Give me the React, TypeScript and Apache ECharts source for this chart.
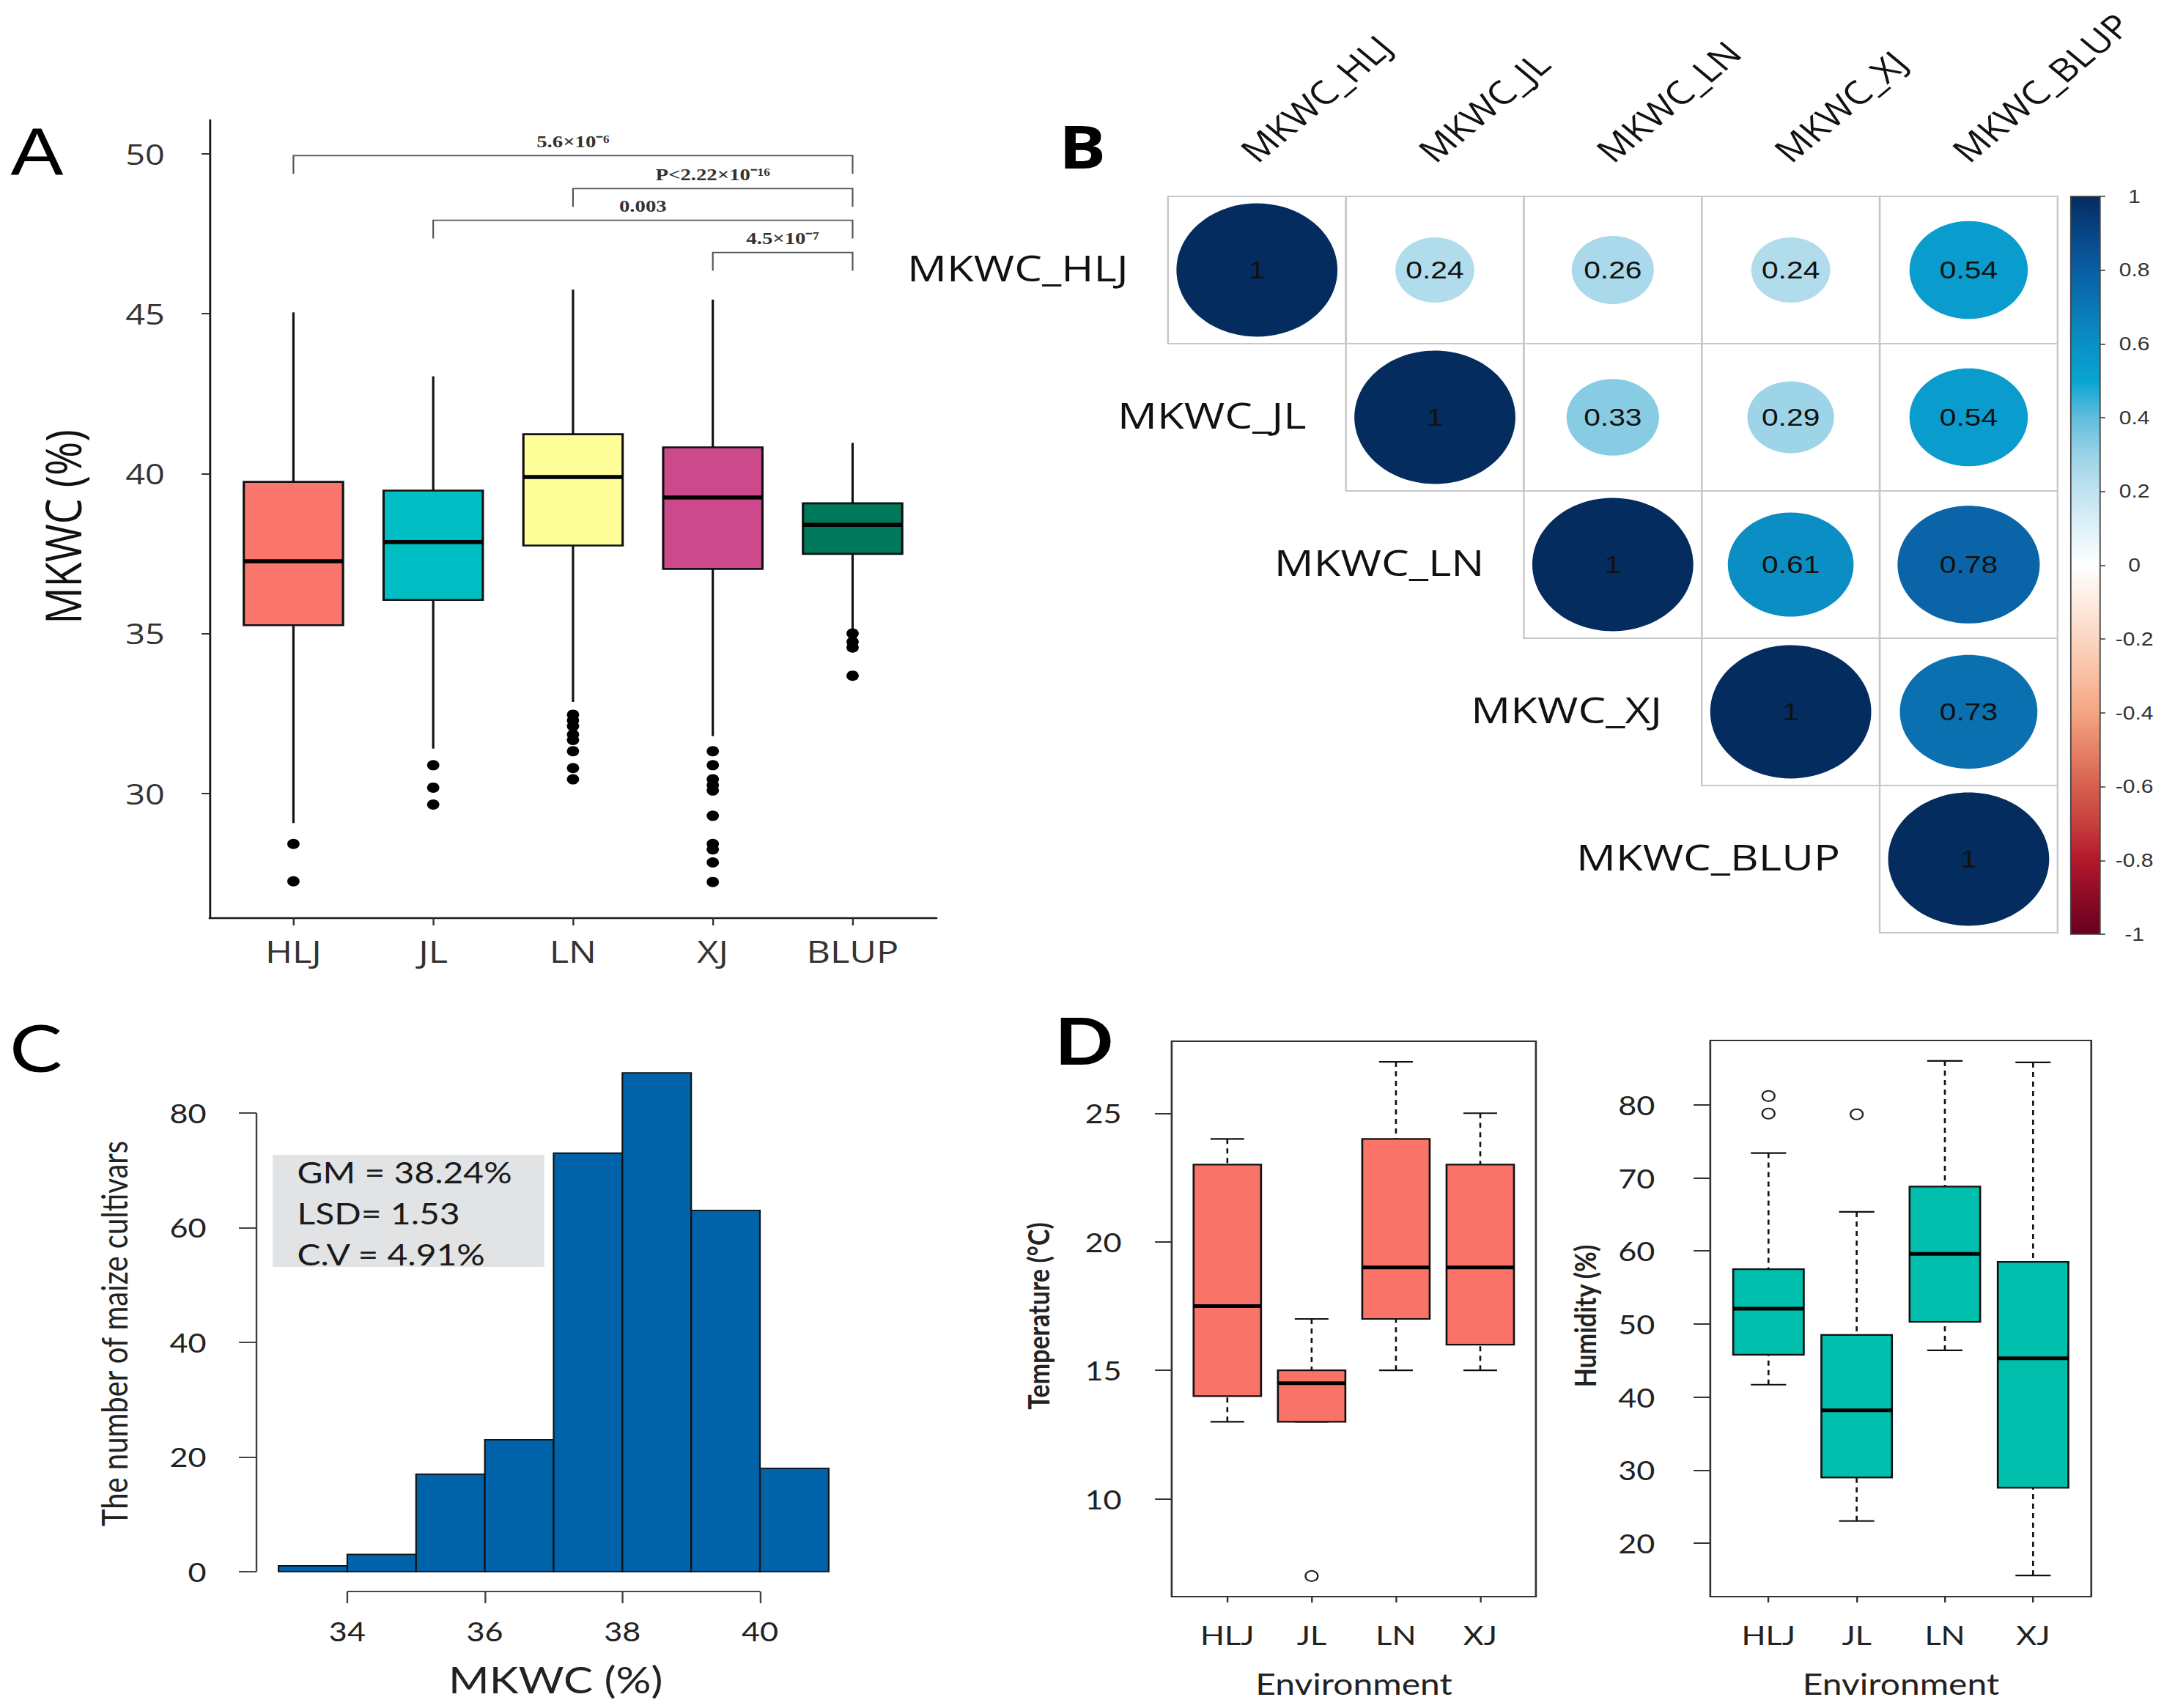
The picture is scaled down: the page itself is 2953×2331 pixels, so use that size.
import React, { useEffect, useRef } from "react";
import * as echarts from "echarts";

// The reference figure is stretched horizontally; we draw in an unstretched
// frame and stretch the whole chart with CSS.
const FIG_W = 2953;
const FIG_H = 2331;
const CHART_W = 2461;
const STRETCH = FIG_W / CHART_W;

// ---------------- Panel A: MKWC boxplots by environment ----------------
const envA = ["HLJ", "JL", "LN", "XJ", "BLUP"];
const minA = [29.07, 31.4, 32.86, 31.79, 35.09];
const q1A = [35.26, 36.05, 37.75, 37.02, 37.49];
const medA = [37.26, 37.86, 39.89, 39.25, 38.4];
const q3A = [39.74, 39.47, 41.23, 40.82, 39.07];
const maxA = [45.04, 43.04, 45.75, 45.44, 40.96];
const colorsA = ["#FB766D", "#00BFC4", "#FFFF99", "#CC4A8B", "#00785A"];
const outHLJ = [28.42, 27.25];
const outJL = [30.88, 30.18, 29.65];
const outLN = [32.46, 32.28, 32.1, 31.84, 31.67, 31.32, 30.79, 30.44];
const outXJ = [31.32, 30.88, 30.44, 30.26, 30.09, 29.3, 28.42, 28.25, 27.84, 27.23];
const outBLUP = [35.0, 34.74, 34.56, 33.68];
const yTicksA = [30, 35, 40, 45, 50];
const sigFrom = [1, 3, 2, 4];
const sigTo = [5, 5, 5, 5];
const sigY = [49.94, 48.91, 47.92, 46.91];
const sigText = ["5.6×10⁻⁶", "P<2.22×10⁻¹⁶", "0.003", "4.5×10⁻⁷"];
const SIG_TICK = 0.57;

// ---------------- Panel B: correlation matrix ----------------
const corrLabels = ["MKWC_HLJ", "MKWC_JL", "MKWC_LN", "MKWC_XJ", "MKWC_BLUP"];
const corrHLJ = [1, 0.24, 0.26, 0.24, 0.54];
const corrJL = [0.24, 1, 0.33, 0.29, 0.54];
const corrLN = [0.26, 0.33, 1, 0.61, 0.78];
const corrXJ = [0.24, 0.29, 0.61, 1, 0.73];
const corrBLUP = [0.54, 0.54, 0.78, 0.73, 1];
const corrMatrix = [corrHLJ, corrJL, corrLN, corrXJ, corrBLUP];
const colorbarTicks = [-1, -0.8, -0.6, -0.4, -0.2, 0, 0.2, 0.4, 0.6, 0.8, 1];
// colours from -1 to 1 in steps of 0.1
const corrPalette = [
  "#67001F", "#8A0B25", "#B2182B", "#C73F3E", "#D6604D", "#E58267", "#F4A582",
  "#F8BFA2", "#FBD6C2", "#FDEBE1", "#FFFFFF", "#E0F1F8", "#C0E3F0", "#99D2E7",
  "#62BDDD", "#08A4D2", "#0A90C5", "#0A78B5", "#0A5FA4", "#084585", "#042C5E",
];

// ---------------- Panel C: histogram ----------------
const histEdges = [33, 34, 35, 36, 37, 38, 39, 40, 41];
const histCounts = [1, 3, 17, 23, 73, 87, 63, 18];
const xTicksC = [34, 36, 38, 40];
const yTicksC = [0, 20, 40, 60, 80];
const statsC = ["GM = 38.24%", "LSD= 1.53", "C.V = 4.91%"];

// ---------------- Panel D: environment boxplots ----------------
const envD = ["HLJ", "JL", "LN", "XJ"];
const tempMin = [13, 13, 15, 15];
const tempQ1 = [14, 13, 17, 16];
const tempMed = [17.5, 14.5, 19, 19];
const tempQ3 = [23, 15, 24, 23];
const tempMax = [24, 17, 27, 25];
const tempOutPos = [2];
const tempOutVal = [7];
const humMin = [41.7, 23.05, 46.4, 15.6];
const humQ1 = [45.8, 29.0, 50.3, 27.6];
const humMed = [52.1, 38.2, 59.6, 45.3];
const humQ3 = [57.5, 48.5, 68.8, 58.5];
const humMax = [73.4, 65.35, 86.0, 85.8];
const humOutPos = [1, 1, 2];
const humOutVal = [81.2, 78.8, 78.7];
const tempTicks = [10, 15, 20, 25];
const humTicks = [20, 30, 40, 50, 60, 70, 80];

type BoxOpts = {
  half: number;
  fills: string[];
  lineW: number;
  medW: number;
  dashed: boolean;
  cap: number;
};

function makeBoxRenderer(o: BoxOpts) {
  return (params: any, api: any) => {
    const x = api.value(0);
    const lo = api.value(1);
    const q1 = api.value(2);
    const md = api.value(3);
    const q3 = api.value(4);
    const hi = api.value(5);
    const a = api.coord([x - o.half, q3]);
    const b = api.coord([x + o.half, q1]);
    const pTop = api.coord([x, hi]);
    const pBot = api.coord([x, lo]);
    const pQ3 = api.coord([x, q3]);
    const pQ1 = api.coord([x, q1]);
    const m1 = api.coord([x - o.half, md]);
    const m2 = api.coord([x + o.half, md]);
    const wStyle: any = { stroke: "#111", lineWidth: o.lineW };
    if (o.dashed) wStyle.lineDash = [7, 6];
    const children: any[] = [
      { type: "line", shape: { x1: pTop[0], y1: pTop[1], x2: pQ3[0], y2: pQ3[1] }, style: wStyle },
      { type: "line", shape: { x1: pBot[0], y1: pBot[1], x2: pQ1[0], y2: pQ1[1] }, style: wStyle },
    ];
    if (o.cap > 0) {
      const c1 = api.coord([x - o.cap, hi]);
      const c2 = api.coord([x + o.cap, hi]);
      const c3 = api.coord([x - o.cap, lo]);
      const c4 = api.coord([x + o.cap, lo]);
      children.push({ type: "line", shape: { x1: c1[0], y1: c1[1], x2: c2[0], y2: c2[1] }, style: { stroke: "#111", lineWidth: o.lineW } });
      children.push({ type: "line", shape: { x1: c3[0], y1: c3[1], x2: c4[0], y2: c4[1] }, style: { stroke: "#111", lineWidth: o.lineW } });
    }
    children.push({
      type: "rect",
      shape: { x: a[0], y: a[1], width: b[0] - a[0], height: b[1] - a[1] },
      style: { fill: o.fills[params.dataIndex % o.fills.length], stroke: "#111", lineWidth: o.lineW },
    });
    children.push({
      type: "line",
      shape: { x1: m1[0], y1: m1[1], x2: m2[0], y2: m2[1] },
      style: { stroke: "#000", lineWidth: o.medW },
    });
    return { type: "group", children };
  };
}

function valAxis(grid: number, min: number, max: number, extra: any = {}) {
  return {
    type: "value",
    gridIndex: grid,
    min,
    max,
    splitLine: { show: false },
    axisLine: { show: false, onZero: false },
    axisTick: { show: false },
    axisLabel: { show: false },
    ...extra,
  };
}

function buildOption() {
  const posA = envA.map((_, i) => i + 1);
  const posD = envD.map((_, i) => i + 1);
  const boxDataA = envA.map((_, i) => [i + 1, minA[i], q1A[i], medA[i], q3A[i], maxA[i]]);
  const outA = [outHLJ, outJL, outLN, outXJ, outBLUP].flatMap((arr, i) => arr.map((v) => [i + 1, v]));
  const sigData = sigFrom.map((f, i) => [f, sigTo[i], sigY[i]]);

  const cellData: number[][] = [];
  corrMatrix.forEach((row, i) => {
    row.forEach((r, j) => {
      if (j >= i) cellData.push([j, i, r]);
    });
  });
  const labelData = corrLabels.map((_, k) => [k, k]);

  const histData = histCounts.map((c, i) => [histEdges[i], histEdges[i + 1], c]);
  const xMinC = 32.68;
  const yMinC = -3.48;
  const axisSegC = [
    [0, yTicksC[0], yTicksC[yTicksC.length - 1]],
    [1, xTicksC[0], xTicksC[xTicksC.length - 1]],
  ];

  const tempData = envD.map((_, i) => [i + 1, tempMin[i], tempQ1[i], tempMed[i], tempQ3[i], tempMax[i]]);
  const humData = envD.map((_, i) => [i + 1, humMin[i], humQ1[i], humMed[i], humQ3[i], humMax[i]]);
  const tempOut = tempOutPos.map((p, i) => [p, tempOutVal[i]]);
  const humOut = humOutPos.map((p, i) => [p, humOutVal[i]]);

  const gradStops = corrPalette.map((c, p) => ({ offset: 1 - p / 20, color: c })).reverse();

  const latoTick = { fontFamily: "Lato", fontSize: 36, color: "#222" };
  const openCircle = {
    symbol: "circle",
    symbolSize: 14,
    itemStyle: { color: "#ffffff", borderColor: "#222", borderWidth: 2, opacity: 1 },
  };

  return {
    animation: false,
    backgroundColor: "#ffffff",
    grid: [
      { left: 238.3, top: 164, width: 826.7, height: 1089, containLabel: false, outerBoundsMode: "none" },
      { left: 1328.3, top: 268, width: 1011.7, height: 1005, containLabel: false, outerBoundsMode: "none" },
      { left: 2355, top: 268, width: 33.3, height: 1007, containLabel: false, outerBoundsMode: "none" },
      { left: 291.7, top: 1437, width: 675.8, height: 735, containLabel: false, outerBoundsMode: "none" },
      { left: 1332.5, top: 1421, width: 414.2, height: 758, show: true, borderColor: "#333", borderWidth: 2.2, backgroundColor: "transparent", containLabel: false, outerBoundsMode: "none" },
      { left: 1945, top: 1420, width: 433.3, height: 759, show: true, borderColor: "#333", borderWidth: 2.2, backgroundColor: "transparent", containLabel: false, outerBoundsMode: "none" },
    ],
    xAxis: [
      valAxis(0, 0.4, 5.6, {
        axisLine: { show: true, onZero: false, lineStyle: { color: "#1a1a1a", width: 2.4 } },
        axisTick: { show: true, customValues: posA, length: 10, lineStyle: { color: "#333", width: 2 } },
        axisLabel: {
          show: true, customValues: posA, formatter: (v: number) => envA[Math.round(v) - 1],
          fontFamily: "Open Sans", fontSize: 42, color: "#333", margin: 24,
        },
      }),
      valAxis(1, 0, 5),
      valAxis(2, 0, 1),
      valAxis(3, xMinC, 41.32, {
        axisTick: { show: true, customValues: xTicksC, length: 16, lineStyle: { color: "#444", width: 2 } },
        axisLabel: { show: true, customValues: xTicksC, margin: 36, ...latoTick },
      }),
      valAxis(4, 0.34, 4.66, {
        axisTick: { show: true, customValues: posD, length: 8, lineStyle: { color: "#333", width: 2 } },
        axisLabel: { show: true, customValues: posD, formatter: (v: number) => envD[Math.round(v) - 1], margin: 34, ...latoTick },
      }),
      valAxis(5, 0.34, 4.66, {
        axisTick: { show: true, customValues: posD, length: 8, lineStyle: { color: "#333", width: 2 } },
        axisLabel: { show: true, customValues: posD, formatter: (v: number) => envD[Math.round(v) - 1], margin: 34, ...latoTick },
      }),
    ],
    yAxis: [
      valAxis(0, 26.1, 51.05, {
        axisLine: { show: true, onZero: false, lineStyle: { color: "#1a1a1a", width: 2.4 } },
        axisTick: { show: true, customValues: yTicksA, length: 9, lineStyle: { color: "#333", width: 2 } },
        axisLabel: { show: true, customValues: yTicksA, fontFamily: "Open Sans", fontSize: 39, color: "#333", margin: 51 },
      }),
      valAxis(1, 0, 5, { inverse: true }),
      valAxis(2, -1, 1, {
        position: "right",
        axisTick: { show: true, customValues: colorbarTicks, length: 6, lineStyle: { color: "#333", width: 1.5 } },
        axisLabel: {
          show: true, customValues: colorbarTicks, formatter: (v: number) => String(Math.round(v * 10) / 10),
          fontFamily: "Liberation Sans", fontSize: 25, color: "#333", margin: 39, align: "center",
        },
      }),
      valAxis(3, yMinC, 90.48, {
        axisTick: { show: true, customValues: yTicksC, length: 20, lineStyle: { color: "#444", width: 2 } },
        axisLabel: { show: true, customValues: yTicksC, margin: 57, ...latoTick },
      }),
      valAxis(4, 6.2, 27.8, {
        axisTick: { show: true, customValues: tempTicks, length: 19, lineStyle: { color: "#333", width: 2 } },
        axisLabel: { show: true, customValues: tempTicks, margin: 57, ...latoTick },
      }),
      valAxis(5, 12.7, 88.8, {
        axisTick: { show: true, customValues: humTicks, length: 19, lineStyle: { color: "#333", width: 2 } },
        axisLabel: { show: true, customValues: humTicks, margin: 63, ...latoTick },
      }),
    ],
    visualMap: [
      {
        type: "continuous", show: false, min: -1, max: 1, dimension: 2, seriesIndex: 3,
        inRange: { color: corrPalette },
      },
    ],
    series: [
      // 0: panel A boxes
      {
        type: "custom", xAxisIndex: 0, yAxisIndex: 0, data: boxDataA,
        encode: { x: 0, y: [1, 2, 3, 4, 5] },
        renderItem: makeBoxRenderer({ half: 0.355, fills: colorsA, lineW: 2.6, medW: 5.5, dashed: false, cap: 0 }),
      },
      // 1: panel A outliers
      {
        type: "scatter", xAxisIndex: 0, yAxisIndex: 0, data: outA, symbol: "circle", symbolSize: 14,
        itemStyle: { color: "#000", opacity: 1 },
      },
      // 2: significance brackets
      {
        type: "custom", xAxisIndex: 0, yAxisIndex: 0, data: sigData, encode: { x: [0, 1], y: 2 },
        renderItem: (params: any, api: any) => {
          const f = api.value(0);
          const t = api.value(1);
          const y = api.value(2);
          const p1 = api.coord([f, y - SIG_TICK]);
          const p2 = api.coord([f, y]);
          const p3 = api.coord([t, y]);
          const p4 = api.coord([t, y - SIG_TICK]);
          const mid = api.coord([(f + t) / 2, y]);
          return {
            type: "group",
            children: [
              { type: "polyline", shape: { points: [p1, p2, p3, p4] }, style: { stroke: "#555", lineWidth: 1.8, fill: "none" } },
              {
                type: "text", x: mid[0], y: mid[1] - 20,
                style: {
                  text: sigText[params.dataIndex], fontFamily: "Liberation Serif", fontWeight: "bold",
                  fontSize: 24, fill: "#333", align: "center", verticalAlign: "middle",
                },
              },
            ],
          };
        },
      },
      // 3: correlation cells
      {
        type: "custom", xAxisIndex: 1, yAxisIndex: 1, data: cellData, encode: { x: 0, y: 1 },
        renderItem: (params: any, api: any) => {
          const j = api.value(0);
          const i = api.value(1);
          const r = api.value(2);
          const tl = api.coord([j, i]);
          const br = api.coord([j + 1, i + 1]);
          const w = br[0] - tl[0];
          const h = br[1] - tl[1];
          const cx = tl[0] + w / 2;
          const cy = tl[1] + h / 2;
          const k = Math.sqrt(Math.abs(r)) * 0.905;
          return {
            type: "group",
            children: [
              { type: "rect", shape: { x: tl[0], y: tl[1], width: w, height: h }, style: { fill: "none", stroke: "#c8c8c8", lineWidth: 2 } },
              { type: "ellipse", shape: { cx, cy, rx: (k * w) / 2, ry: (k * h) / 2 }, style: { fill: api.visual("color") } },
              {
                type: "text", x: cx, y: cy,
                style: {
                  text: r === 1 ? "1" : r.toFixed(2), fontFamily: "Liberation Sans", fontSize: 34,
                  fill: "#111", align: "center", verticalAlign: "middle",
                },
              },
            ],
          };
        },
      },
      // 4: correlation row / column labels
      {
        type: "custom", xAxisIndex: 1, yAxisIndex: 1, data: labelData, encode: { x: 0, y: 1 },
        renderItem: (params: any, api: any) => {
          const kk = api.value(0);
          const rowPos = api.coord([kk, kk + 0.5]);
          const colPos = api.coord([kk + 0.5, 0]);
          const label = corrLabels[params.dataIndex];
          return {
            type: "group",
            children: [
              {
                type: "text", x: rowPos[0] - 45, y: rowPos[1] - 4,
                style: { text: label, fontFamily: "Open Sans", fontSize: 50, fill: "#111", align: "right", verticalAlign: "middle" },
              },
              {
                type: "text", x: colPos[0] + 4, y: colPos[1] - 40, rotation: Math.PI / 4,
                style: { text: label, fontFamily: "Open Sans", fontSize: 44, fill: "#111", align: "left", verticalAlign: "bottom" },
              },
            ],
          };
        },
      },
      // 5: colour bar
      {
        type: "custom", xAxisIndex: 2, yAxisIndex: 2, data: [[0.5, 0]], encode: { x: 0, y: 1 },
        renderItem: (params: any, api: any) => {
          const tl = api.coord([0, 1]);
          const br = api.coord([1, -1]);
          return {
            type: "rect",
            shape: { x: tl[0], y: tl[1], width: br[0] - tl[0], height: br[1] - tl[1] },
            style: {
              fill: new echarts.graphic.LinearGradient(0, 0, 0, 1, gradStops),
              stroke: "#444", lineWidth: 1.5,
            },
          };
        },
      },
      // 6: histogram bars
      {
        type: "custom", xAxisIndex: 3, yAxisIndex: 3, data: histData, encode: { x: [0, 1], y: 2 },
        renderItem: (params: any, api: any) => {
          const tl = api.coord([api.value(0), api.value(2)]);
          const br = api.coord([api.value(1), 0]);
          return {
            type: "rect",
            shape: { x: tl[0], y: tl[1], width: br[0] - tl[0], height: br[1] - tl[1] },
            style: { fill: "#0062A8", stroke: "#111", lineWidth: 1.8 },
          };
        },
      },
      // 7: histogram axis lines (base-R style, from first to last tick)
      {
        type: "custom", xAxisIndex: 3, yAxisIndex: 3, data: axisSegC, encode: { x: 1, y: 2 },
        renderItem: (params: any, api: any) => {
          const kind = api.value(0);
          const a = api.value(1);
          const b = api.value(2);
          const p1 = kind === 0 ? api.coord([xMinC, a]) : api.coord([a, yMinC]);
          const p2 = kind === 0 ? api.coord([xMinC, b]) : api.coord([b, yMinC]);
          return {
            type: "line",
            shape: { x1: p1[0], y1: p1[1], x2: p2[0], y2: p2[1] },
            style: { stroke: "#444", lineWidth: 2 },
          };
        },
      },
      // 8: temperature boxes
      {
        type: "custom", xAxisIndex: 4, yAxisIndex: 4, data: tempData, encode: { x: 0, y: [1, 2, 3, 4, 5] },
        renderItem: makeBoxRenderer({ half: 0.4, fills: ["#FA7369"], lineW: 2.2, medW: 5, dashed: true, cap: 0.2 }),
      },
      // 9: temperature outliers
      { type: "scatter", xAxisIndex: 4, yAxisIndex: 4, data: tempOut, ...openCircle },
      // 10: humidity boxes
      {
        type: "custom", xAxisIndex: 5, yAxisIndex: 5, data: humData, encode: { x: 0, y: [1, 2, 3, 4, 5] },
        renderItem: makeBoxRenderer({ half: 0.4, fills: ["#00BFAC"], lineW: 2.2, medW: 5, dashed: true, cap: 0.2 }),
      },
      // 11: humidity outliers
      { type: "scatter", xAxisIndex: 5, yAxisIndex: 5, data: humOut, ...openCircle },
    ],
    graphic: [
      { type: "text", x: 42, y: 207, style: { text: "A", fontFamily: "Liberation Sans", fontSize: 90, fill: "#000", align: "center", verticalAlign: "middle" } },
      { type: "text", x: 1231, y: 199, style: { text: "B", fontFamily: "Open Sans", fontWeight: "bold", fontSize: 80, fill: "#000", align: "center", verticalAlign: "middle" } },
      { type: "text", x: 41, y: 1428, style: { text: "C", fontFamily: "Lato", fontSize: 90, fill: "#000", align: "center", verticalAlign: "middle" } },
      { type: "text", x: 1233, y: 1419, style: { text: "D", fontFamily: "Lato", fontWeight: "bold", fontSize: 88, fill: "#000", align: "center", verticalAlign: "middle" } },
      // axis titles
      { type: "text", x: 71, y: 719, rotation: Math.PI / 2, style: { text: "MKWC (%)", fontFamily: "Open Sans", fontSize: 56, fill: "#111", align: "center", verticalAlign: "middle" } },
      { type: "text", x: 129, y: 1820, rotation: Math.PI / 2, style: { text: "The number of maize cultivars", fontFamily: "Lato", fontSize: 40, fill: "#222", align: "center", verticalAlign: "middle" } },
      { type: "text", x: 632, y: 2292, style: { text: "MKWC (%)", fontFamily: "Lato", fontSize: 50, fill: "#222", align: "center", verticalAlign: "middle" } },
      { type: "text", x: 1180, y: 1796, rotation: Math.PI / 2, style: { text: "Temperature (°C)", fontFamily: "Lato", fontWeight: "bold", fontSize: 34, fill: "#222", align: "center", verticalAlign: "middle" } },
      { type: "text", x: 1801.7, y: 1796, rotation: Math.PI / 2, style: { text: "Humidity (%)", fontFamily: "Lato", fontWeight: "bold", fontSize: 34, fill: "#222", align: "center", verticalAlign: "middle" } },
      { type: "text", x: 1539.6, y: 2297, style: { text: "Environment", fontFamily: "Lato", fontSize: 40, fill: "#222", align: "center", verticalAlign: "middle" } },
      { type: "text", x: 2161.7, y: 2297, style: { text: "Environment", fontFamily: "Lato", fontSize: 40, fill: "#222", align: "center", verticalAlign: "middle" } },
      // statistics box in panel C
      { type: "rect", shape: { x: 310, y: 1576, width: 309, height: 153 }, style: { fill: "#E1E3E5" } },
      ...statsC.map((t, i) => ({
        type: "text", x: 338, y: 1599 + i * 56,
        style: { text: t, fontFamily: "Lato", fontSize: 40, fill: "#1a1a1a", align: "left", verticalAlign: "middle" },
      })),
    ],
  };
}

export default function App() {
  const ref = useRef<HTMLDivElement>(null);
  useEffect(() => {
    if (!ref.current) return;
    const chart = echarts.init(ref.current, undefined, { renderer: "svg" });
    chart.setOption(buildOption() as any);
    return () => chart.dispose();
  }, []);
  return (
    <div style={{ position: "absolute", left: 0, top: 0, width: FIG_W, height: FIG_H, overflow: "hidden", background: "#fff" }}>
      <div
        ref={ref}
        style={{
          width: CHART_W,
          height: FIG_H,
          transform: `scaleX(${STRETCH})`,
          transformOrigin: "0 0",
        }}
      />
    </div>
  );
}
